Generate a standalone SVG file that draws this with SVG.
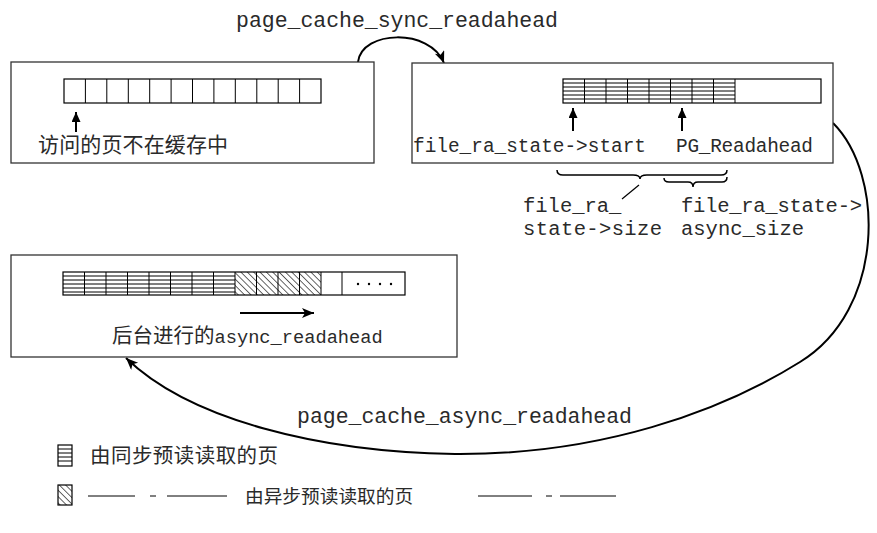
<svg xmlns="http://www.w3.org/2000/svg" width="877" height="533" viewBox="0 0 877 533">
<style>
.box{fill:#fff;stroke:#333;stroke-width:1.3}
.cell{fill:none;stroke:#000;stroke-width:1.2}
.hl{stroke:#000;stroke-width:1}
.mono{font-family:"Liberation Mono","DejaVu Sans Mono",monospace;fill:#2a2a2a}
.cjk{font-family:"Noto Sans CJK SC","Noto Sans CJK TC",sans-serif;fill:#2a2a2a}
.curve{fill:none;stroke:#000;stroke-width:2}
.brace{fill:none;stroke:#000;stroke-width:1.5}
</style>
<defs>
<pattern id="diag" patternUnits="userSpaceOnUse" width="4.5" height="10" patternTransform="rotate(-45)">
<line x1="0" y1="0" x2="0" y2="10" stroke="#000" stroke-width="1.2"/>
</pattern>
<marker id="ah" markerUnits="userSpaceOnUse" markerWidth="14" markerHeight="12" refX="12" refY="5" orient="auto">
<path d="M0,0 L12,5 L0,10 L3,5 z" fill="#000"/>
</marker>
<marker id="ahs" markerUnits="userSpaceOnUse" markerWidth="12" markerHeight="10" refX="10" refY="4.5" orient="auto">
<path d="M0,0 L10,4.5 L0,9 z" fill="#000"/>
</marker>
</defs>

<g id="connectors">
<path class="curve" d="M358,62 C362,30 430,28 444,63" marker-end="url(#ah)"/>
<path class="curve" d="M833,123 C885,175 885,310 800,362 C720,412 600,455 455,454 C320,452 190,420 126,358" marker-end="url(#ah)"/>
<text class="mono" x="236" y="27" font-size="21.5" textLength="322">page_cache_sync_readahead</text>
<text class="mono" x="297" y="423" font-size="21.5" textLength="335">page_cache_async_readahead</text>
</g>

<g id="box1">
<rect class="box" x="11" y="62" width="363" height="101"/>
<rect class="cell" x="64" y="79" width="257" height="24"/>
<path class="hl" d="M85.4,79V103M106.8,79V103M128.3,79V103M149.7,79V103M171.1,79V103M192.5,79V103M213.9,79V103M235.3,79V103M256.8,79V103M278.2,79V103M299.6,79V103"/>
<line x1="76" y1="132" x2="76" y2="112" stroke="#000" stroke-width="2" marker-end="url(#ahs)"/>
<text class="cjk" x="38" y="152" font-size="21" textLength="190">访问的页不在缓存中</text>
</g>

<g id="box2">
<rect class="box" x="412" y="63" width="421" height="100"/>
<rect class="cell" x="563" y="79" width="258" height="24"/>
<path class="hl" d="M584.5,79V103M606,79V103M627.5,79V103M649,79V103M670.5,79V103M692,79V103M713.5,79V103M735,79V103"/>
<path class="hl" d="M563,83H735M563,87H735M563,91H735M563,95H735M563,99H735"/>
<line x1="573" y1="131" x2="573" y2="108" stroke="#000" stroke-width="2" marker-end="url(#ahs)"/>
<line x1="682" y1="131" x2="682" y2="108" stroke="#000" stroke-width="2" marker-end="url(#ahs)"/>
<text class="mono" x="413" y="152" font-size="19.4" textLength="233">file_ra_state-&gt;start</text>
<text class="mono" x="676" y="152" font-size="19.4" textLength="137">PG_Readahead</text>
</g>

<g id="braces">
<path class="brace" d="M557,170 Q557,175 563,175 L633,175 Q640,175 640,179 Q640,175 647,175 L721,175 Q727,175 727,170"/>
<path class="brace" d="M664,178 Q664,182 669,182 L688,182 Q693,182 693,187 Q693,182 698,182 L722,182 Q727,182 727,177"/>
<line x1="639" y1="185" x2="622" y2="199" stroke="#000" stroke-width="1.2"/>
<text class="mono" x="523" y="212" font-size="20.5">file_ra_</text>
<text class="mono" x="523" y="235" font-size="20.5" textLength="139">state-&gt;size</text>
<text class="mono" x="681" y="212" font-size="20.5" textLength="181">file_ra_state-&gt;</text>
<text class="mono" x="681" y="235" font-size="20.5">async_size</text>
</g>

<g id="box3">
<rect class="box" x="11" y="255" width="446" height="102"/>
<rect x="235" y="272" width="86" height="23" fill="url(#diag)"/>
<rect class="cell" x="63" y="272" width="342" height="23"/>
<path class="hl" d="M84.5,272V295M106,272V295M127.5,272V295M149,272V295M170.5,272V295M192,272V295M213.5,272V295M235,272V295M256.5,272V295M278,272V295M299.5,272V295M321,272V295M342,272V295"/>
<path class="hl" d="M63,276H235M63,280H235M63,284H235M63,288H235M63,292H235"/>
<g fill="#000"><circle cx="358" cy="284" r="1.2"/><circle cx="369" cy="284" r="1.2"/><circle cx="380" cy="284" r="1.2"/><circle cx="391" cy="284" r="1.2"/></g>
<line x1="240" y1="313" x2="314" y2="313" stroke="#000" stroke-width="2" marker-end="url(#ah)"/>
<text x="112" y="343" font-size="20.5"><tspan class="cjk">后台进行的</tspan><tspan class="mono" font-size="18.7">async_readahead</tspan></text>
</g>

<g id="legend">
<rect x="58" y="445" width="14" height="21" fill="#fff" stroke="#000" stroke-width="1.2"/>
<path class="hl" d="M58,449H72M58,453H72M58,457H72M58,461H72"/>
<text class="cjk" x="90" y="463" font-size="20.5" textLength="188">由同步预读读取的页</text>
<rect x="58" y="485" width="14" height="20" fill="url(#diag)" stroke="#000" stroke-width="1.2"/>
<path class="hl" d="M88,496H135M150,496H156M167,496H227M478,496H532M546,496H552M560,496H616"/>
<text class="cjk" x="245" y="503" font-size="18.7">由异步预读读取的页</text>
</g>
</svg>
